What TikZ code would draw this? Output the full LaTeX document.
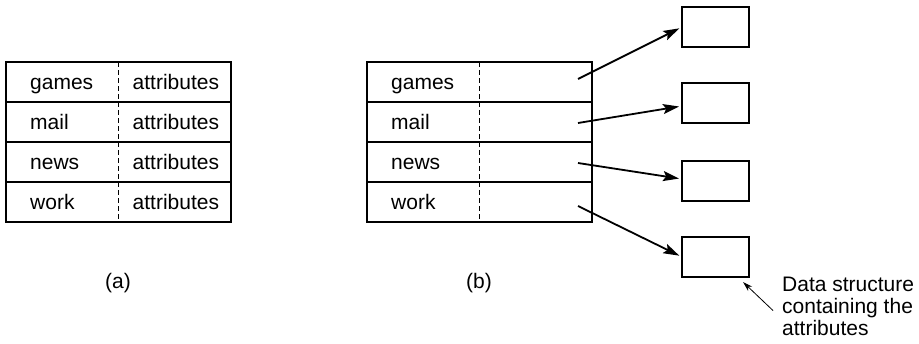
\documentclass[tikz,border=0pt]{standalone}
\usepackage{fontspec}
\setmainfont{Liberation Sans}
\usetikzlibrary{positioning,arrows.meta}
\begin{document}
\begin{tikzpicture}
[x=1pt, y=-1pt, font=\fontsize{21}{24}\selectfont,
row/.style={draw, line width=2pt, minimum width=225pt, minimum height=40pt, inner sep=0pt, outer sep=0pt},
box/.style={draw, line width=2pt, minimum width=67pt, minimum height=40pt, inner sep=0pt, outer sep=0pt},
entry/.style={anchor=base west, inner sep=0pt},
ptr/.style={-{Stealth[length=16pt, width=10pt, inset=3pt]}, line width=1.8pt, shorten >=3pt},
sep line/.style={dashed, line width=1pt, dash pattern=on 5pt off 3pt}]
\useasboundingbox (0,0) rectangle (919,343);

% (a) table with attributes in the entries
\node[row] (a1) at (118.5,82) {};
\node[row, below=0pt of a1] (a2) {};
\node[row, below=0pt of a2] (a3) {};
\node[row, below=0pt of a3] (a4) {};
\draw[sep line] (a1.north) -- (a4.south);
\foreach \r/\name in {1/games, 2/mail, 3/news, 4/work} {
  \node[entry] (an\r) at ([xshift=24pt, yshift=-7.5pt]a\r.west) {\name};
  \node[entry] (aa\r) at ([xshift=14pt, yshift=-7.5pt]a\r.center) {attributes};
}
\node (capa) at (118,283) {(a)};

% (b) table with pointers
\node[row] (b1) at (479.5,82) {};
\node[row, below=0pt of b1] (b2) {};
\node[row, below=0pt of b2] (b3) {};
\node[row, below=0pt of b3] (b4) {};
\draw[sep line] (b1.north) -- (b4.south);
\foreach \r/\name in {1/games, 2/mail, 3/news, 4/work} {
  \node[entry] (bn\r) at ([xshift=24pt, yshift=-7.5pt]b\r.west) {\name};
}
\node (capb) at (479,283) {(b)};

% attribute structures
\node[box] (s1) at (715.5,27) {};
\node[box] (s2) at (715.5,103) {};
\node[box] (s3) at (715.5,181) {};
\node[box] (s4) at (715.5,257) {};

\coordinate (p1) at ([xshift=-14pt, yshift=3pt]b1.east);
\coordinate (p2) at ([xshift=-14pt, yshift=-1pt]b2.east);
\coordinate (p3) at ([xshift=-14pt, yshift=-1pt]b3.east);
\coordinate (p4) at ([xshift=-14pt, yshift=-4pt]b4.east);
\draw[ptr] (p1) -- (s1.west);
\draw[ptr] (p2) -- ([yshift=-3pt]s2.west);
\draw[ptr] (p3) -- ([yshift=2pt]s3.west);
\draw[ptr] (p4) -- (s4.west);

\node[anchor=north west, align=left, inner sep=0pt, font=\fontsize{21}{22}\selectfont] (note) at (782,277) {Data structure\\containing the\\attributes};
\draw[-{Stealth[length=10pt, width=6pt]}, line width=0.8pt] ([xshift=-9pt, yshift=-4pt]note.west) -- ([xshift=-6pt, yshift=-5pt]s4.south east);
\end{tikzpicture}
\end{document}
